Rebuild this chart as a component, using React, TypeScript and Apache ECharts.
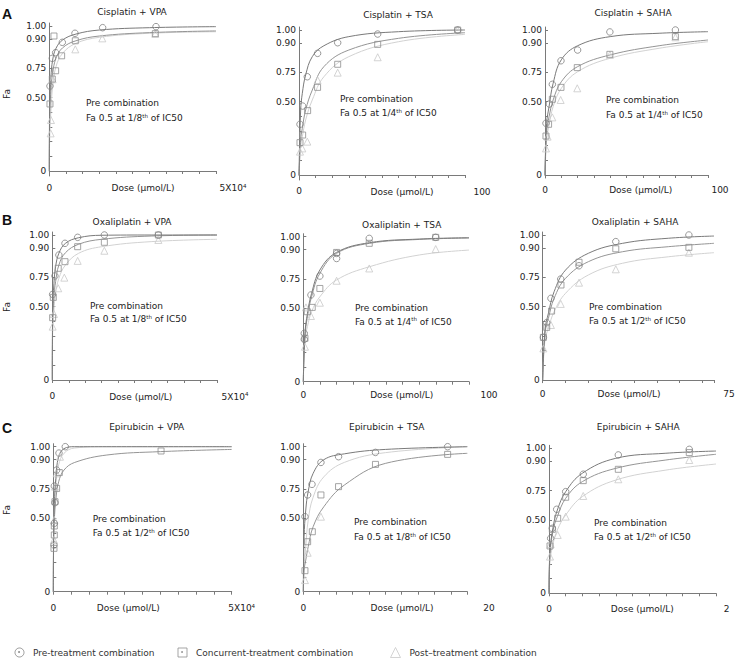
import React, { useEffect, useRef } from "react";
import * as echarts from "echarts";

const FONT = "DejaVu Sans";

// ---- y axis (fraction affected) ----
const faTicks = [0, 0.5, 0.75, 0.9, 1.0];
const faTickPos = [0, 73.5, 102.7, 132, 145];
const faTickLabels = ["0", "0.50", "0.75", "0.90", "1.00"];
const faMinorTicks = [0.1, 0.2, 0.3, 0.4];

// ---- legend ----
const seriesNames = ["Pre-treatment combination", "Concurrent-treatment combination", "Post\u2013treatment combination"];

// ---- A: Cisplatin ----
const A1_pre = [[200, 0.598], [900, 0.801], [1900, 0.83], [3900, 0.883], [7700, 0.944], [16000, 0.987], [32000, 0.995]];
const A1_con = [[200, 0.456], [900, 0.658], [1400, 0.923], [1900, 0.729], [3700, 0.814], [7800, 0.891], [31800, 0.941]];
const A1_post = [[400, 0.256], [500, 0.347], [1000, 0.656], [7800, 0.847], [15900, 0.905], [31800, 0.94]];
const A1_preFit = [[0, 0], [100, 0.44], [500, 0.678], [1000, 0.792], [2000, 0.852], [4000, 0.895], [8000, 0.938], [15000, 0.969], [30000, 0.987], [50000, 0.995]];
const A1_conFit = [[0, 0], [100, 0.347], [500, 0.564], [1000, 0.707], [2000, 0.801], [4000, 0.855], [8000, 0.891], [15000, 0.923], [30000, 0.949], [50000, 0.962]];
const A1_postFit = [[0, 0], [100, 0.21], [500, 0.415], [1000, 0.592], [2000, 0.758], [4000, 0.827], [8000, 0.878], [15000, 0.913], [30000, 0.944], [50000, 0.956]];

const A2_pre = [[0.6, 0.345], [2.2, 0.469], [5, 0.712], [11.2, 0.847], [23.3, 0.902], [47.4, 0.969], [95.6, 1.0]];
const A2_con = [[0.6, 0.22], [2.2, 0.272], [5.2, 0.438], [11.2, 0.621], [23.3, 0.791], [47.4, 0.893], [95.6, 1.0]];
const A2_post = [[0.6, 0.159], [2, 0.181], [5, 0.227], [11.2, 0.684], [23.3, 0.747], [47.4, 0.827], [95.6, 1.0]];
const A2_preFit = [[0, 0], [1, 0.442], [2, 0.57], [4, 0.727], [8, 0.83], [15, 0.886], [30, 0.949], [60, 0.987], [100, 1.0]];
const A2_conFit = [[0, 0], [1, 0.238], [2, 0.318], [4, 0.442], [8, 0.598], [15, 0.779], [30, 0.864], [60, 0.936], [100, 0.979]];
const A2_postFit = [[0, 0], [1, 0.193], [2, 0.261], [4, 0.374], [8, 0.513], [15, 0.712], [30, 0.83], [60, 0.91], [100, 0.966]];

const A3_pre = [[0.6, 0.352], [2.7, 0.483], [4.5, 0.647], [9.8, 0.809], [20, 0.864], [39.8, 0.985], [80, 1.0]];
const A3_con = [[0.6, 0.265], [2.2, 0.345], [4.5, 0.519], [9.8, 0.621], [19.8, 0.774], [39.8, 0.842], [80, 0.949]];
const A3_post = [[0.6, 0.181], [1.6, 0.261], [4.5, 0.392], [9.6, 0.513], [19.8, 0.613], [39.8, 0.839], [80, 0.944]];
const A3_preFit = [[0, 0], [1, 0.352], [2.5, 0.465], [5, 0.656], [10, 0.814], [20, 0.886], [40, 0.949], [70, 0.975], [100, 0.987]];
const A3_conFit = [[0, 0], [1, 0.295], [2.5, 0.397], [5, 0.513], [10, 0.669], [20, 0.779], [40, 0.839], [70, 0.886], [100, 0.923]];
const A3_postFit = [[0, 0], [1, 0.238], [2.5, 0.34], [5, 0.465], [10, 0.613], [20, 0.753], [40, 0.822], [70, 0.873], [100, 0.91]];

// ---- B: Oxaliplatin ----
const B1_pre = [[100, 0.604], [800, 0.757], [2000, 0.864], [3850, 0.936], [7700, 0.982], [15800, 1.0], [32200, 1.0]];
const B1_con = [[100, 0.424], [300, 0.578], [1800, 0.796], [3850, 0.83], [7700, 0.91], [15800, 0.944], [32200, 1.0]];
const B1_post = [[100, 0.363], [500, 0.449], [1800, 0.656], [3650, 0.747], [7700, 0.834], [15800, 0.886], [32200, 0.962]];
const B1_preFit = [[0, 0], [100, 0.476], [500, 0.699], [1000, 0.804], [2000, 0.873], [4000, 0.936], [8000, 0.979], [15000, 0.998], [30000, 1.0], [50000, 1.0]];
const B1_conFit = [[0, 0], [100, 0.386], [500, 0.584], [1000, 0.712], [2000, 0.813], [4000, 0.876], [8000, 0.929], [15000, 0.967], [30000, 0.992], [50000, 1.0]];
const B1_postFit = [[0, 0], [100, 0.318], [500, 0.476], [1000, 0.613], [2000, 0.741], [4000, 0.813], [8000, 0.873], [15000, 0.91], [30000, 0.949], [50000, 0.967]];

const B2_pre = [[0.6, 0.329], [0.6, 0.288], [4.6, 0.613], [10, 0.765], [20.1, 0.881], [20.1, 0.855], [39.8, 0.987], [79.9, 0.995]];
const B2_con = [[1, 0.295], [2.4, 0.476], [5.4, 0.507], [10, 0.669], [20.1, 0.886], [39.8, 0.949], [79.9, 0.995]];
const B2_post = [[1, 0.238], [1.6, 0.507], [4.6, 0.447], [10, 0.547], [20.1, 0.735], [39.8, 0.804], [79.9, 0.905]];
const B2_preFit = [[0, 0], [1, 0.329], [2.5, 0.465], [5, 0.627], [10, 0.796], [20, 0.886], [40, 0.954], [70, 0.982], [100, 0.992]];
const B2_conFit = [[0, 0], [1, 0.306], [2.5, 0.442], [5, 0.598], [10, 0.779], [20, 0.881], [40, 0.949], [70, 0.979], [100, 0.99]];
const B2_postFit = [[0, 0], [1, 0.284], [2.5, 0.374], [5, 0.476], [10, 0.598], [20, 0.741], [40, 0.813], [70, 0.873], [100, 0.898]];

const B3_pre = [[0.3, 0.29], [1.75, 0.39], [3.6, 0.57], [7.9, 0.735], [15.9, 0.809], [32, 0.949], [64, 1.0]];
const B3_con = [[0.3, 0.29], [1.75, 0.358], [3.9, 0.469], [8, 0.684], [15.9, 0.827], [32, 0.896], [64, 0.905]];
const B3_post = [[0.3, 0.215], [3.6, 0.374], [7.9, 0.522], [15.9, 0.704], [32, 0.791], [64, 0.876]];
const B3_preFit = [[0, 0], [1, 0.34], [2.5, 0.454], [5, 0.627], [10, 0.787], [20, 0.873], [35, 0.936], [55, 0.975], [75, 0.992]];
const B3_conFit = [[0, 0], [1, 0.318], [2.5, 0.42], [5, 0.57], [10, 0.741], [20, 0.83], [35, 0.881], [55, 0.91], [75, 0.936]];
const B3_postFit = [[0, 0], [1, 0.272], [2.5, 0.352], [5, 0.465], [10, 0.613], [20, 0.762], [35, 0.822], [55, 0.855], [75, 0.876]];

// ---- C: Epirubicin ----
const C1_pre = [[190, 0.318], [280, 0.465], [470, 0.633], [280, 0.765], [935, 0.847], [1590, 0.951], [3360, 1.0]];
const C1_con = [[190, 0.295], [280, 0.386], [280, 0.447], [470, 0.641], [935, 0.753], [1680, 0.834], [30200, 0.967]];
const C1_post = [[190, 0.352], [280, 0.488], [470, 0.762], [935, 0.83], [1870, 0.923]];
const C1_preFit = [[0, 0], [100, 0.42], [300, 0.627], [700, 0.804], [1500, 0.923], [3000, 0.985], [6000, 1.0], [15000, 1.0], [50000, 1.0]];
const C1_conFit = [[0, 0], [100, 0.329], [300, 0.488], [700, 0.656], [1500, 0.787], [3000, 0.847], [6000, 0.886], [15000, 0.936], [30000, 0.962], [50000, 0.979]];
const C1_postFit = [[0, 0], [100, 0.374], [300, 0.57], [700, 0.77], [1500, 0.873], [3000, 0.949], [6000, 0.99], [15000, 1.0], [50000, 1.0]];

const C2_pre = [[0.2, 0.513], [0.53, 0.699], [1.06, 0.774], [2.15, 0.886], [4.3, 0.923], [8.8, 0.956], [17.6, 1.0]];
const C2_con = [[0.2, 0.143], [0.53, 0.34], [1.1, 0.408], [2.15, 0.699], [4.3, 0.762], [8.8, 0.876], [17.6, 0.941]];
const C2_post = [[0.2, 0.079], [0.53, 0.265], [2.15, 0.513]];
const C2_preFit = [[0, 0], [0.1, 0.374], [0.3, 0.57], [0.6, 0.73], [1.2, 0.83], [2.5, 0.9], [5, 0.945], [10, 0.979], [20, 1.0]];
const C2_conFit = [[0, 0], [0.1, 0.147], [0.3, 0.215], [0.6, 0.306], [1.2, 0.442], [2.5, 0.598], [5, 0.77], [10, 0.881], [20, 0.949]];
const C2_postFit = [[0, 0], [0.1, 0.17], [0.3, 0.306], [0.6, 0.488], [1.2, 0.68], [2.5, 0.812], [5, 0.886], [10, 0.954], [20, 1.0]];

const C3_pre = [[0.02, 0.374], [0.04, 0.442], [0.092, 0.59], [0.2, 0.741], [0.41, 0.834], [0.83, 0.949], [1.68, 0.992]];
const C3_con = [[0.012, 0.322], [0.04, 0.435], [0.104, 0.513], [0.2, 0.693], [0.41, 0.801], [0.83, 0.859], [1.68, 0.967]];
const C3_post = [[0.012, 0.25], [0.02, 0.335], [0.104, 0.397], [0.2, 0.527], [0.41, 0.704], [0.83, 0.808], [1.68, 0.91]];
const C3_preFit = [[0, 0], [0.01, 0.272], [0.05, 0.454], [0.1, 0.584], [0.2, 0.741], [0.4, 0.839], [0.8, 0.923], [1.4, 0.962], [2, 0.979]];
const C3_conFit = [[0, 0], [0.01, 0.25], [0.05, 0.431], [0.1, 0.527], [0.2, 0.684], [0.4, 0.796], [0.8, 0.864], [1.4, 0.91], [2, 0.954]];
const C3_postFit = [[0, 0], [0.01, 0.204], [0.05, 0.34], [0.1, 0.431], [0.2, 0.541], [0.4, 0.699], [0.8, 0.804], [1.4, 0.855], [2, 0.886]];

// ---- panel descriptions ----
const panelTitles = [
  "Cisplatin + VPA", "Cisplatin + TSA", "Cisplatin + SAHA",
  "Oxaliplatin + VPA", "Oxaliplatin + TSA", "Oxaliplatin + SAHA",
  "Epirubicin + VPA", "Epirubicin + TSA", "Epirubicin + SAHA",
];
const doseMax = [50000, 100, 100, 50000, 100, 75, 50000, 20, 2];
const doseInterval = [5000, 10, 10, 5000, 10, 10, 5000, 2, 0.2];
const doseEndLabel = ["5X10{s|4}", "100", "100", "5X10{s|4}", "100", "75", "5X10{s|4}", "20", "2"];
const fractions = ["1/8", "1/4", "1/4", "1/8", "1/4", "1/2", "1/2", "1/8", "1/2"];
const preSets = [A1_pre, A2_pre, A3_pre, B1_pre, B2_pre, B3_pre, C1_pre, C2_pre, C3_pre];
const conSets = [A1_con, A2_con, A3_con, B1_con, B2_con, B3_con, C1_con, C2_con, C3_con];
const postSets = [A1_post, A2_post, A3_post, B1_post, B2_post, B3_post, C1_post, C2_post, C3_post];
const preFits = [A1_preFit, A2_preFit, A3_preFit, B1_preFit, B2_preFit, B3_preFit, C1_preFit, C2_preFit, C3_preFit];
const conFits = [A1_conFit, A2_conFit, A3_conFit, B1_conFit, B2_conFit, B3_conFit, C1_conFit, C2_conFit, C3_conFit];
const postFits = [A1_postFit, A2_postFit, A3_postFit, B1_postFit, B2_postFit, B3_postFit, C1_postFit, C2_postFit, C3_postFit];

// layout: x0, xEnd, yZero, gap, titleX, titleY, noteX, noteY1, noteY2, doseX, endX, rowY
const layouts = [
  [49.3, 216, 171, 5, 132, 12.3, 86, 103, 118, 143, 233, 188],
  [299, 465, 175, 5, 398, 15, 340, 99.3, 113.3, 402, 482, 191.7],
  [545, 708, 175, 3, 633, 13, 606, 100, 115, 640.7, 720, 190],
  [52.3, 217, 380, 2, 132, 221.7, 90, 306, 319.3, 140.7, 235, 396.7],
  [303.3, 469, 381.7, 1, 401.7, 225, 355, 308.3, 321.7, 401.7, 489, 395],
  [542.7, 714, 380, 2.7, 635, 221.7, 589, 307.3, 321, 629, 729, 394],
  [53.3, 231.7, 591.7, 1, 146.7, 427, 92.7, 519.3, 533.3, 128.3, 241.7, 608],
  [303.3, 467.3, 591.7, 1, 386.7, 427.3, 354, 521.7, 537.3, 402, 489, 608.3],
  [549, 716, 593.3, 1, 638.3, 427.3, 594, 522.7, 537.3, 642.3, 726.7, 609.3],
];
const Y_TOP = 148;

const COL_PRE = "#7f7f7f";
const COL_CON = "#8e8e8e";
const COL_POST = "#c9c9c9";
const LINE_PRE = "#7a7a7a";
const LINE_CON = "#959595";
const LINE_POST = "#d2d2d2";
const AXIS_COL = "#7a7a7a";
const TEXT_COL = "#222";

function faToPos(fa: number): number {
  if (fa <= faTicks[0]) return faTickPos[0];
  for (let i = 1; i < faTicks.length; i++) {
    if (fa <= faTicks[i]) {
      const t = (fa - faTicks[i - 1]) / (faTicks[i] - faTicks[i - 1]);
      return faTickPos[i - 1] + t * (faTickPos[i] - faTickPos[i - 1]);
    }
  }
  return faTickPos[faTickPos.length - 1];
}

function conv(arr: number[][]) {
  return arr.map(([d, f]) => [d, faToPos(f)]);
}

function buildOption() {
  const grid: any[] = [];
  const xAxis: any[] = [];
  const yAxis: any[] = [];
  const series: any[] = [];
  const graphic: any[] = [];
  const labelPos = faTicks.map(faToPos);
  const tickPos = faMinorTicks.map(faToPos).concat(labelPos);

  layouts.forEach((L, i) => {
    const [x0, xEnd, yZero, gap, titleX, titleY, noteX, noteY1, noteY2, doseX, endX, rowY] = L;
    grid.push({ left: x0, top: yZero - Y_TOP, width: xEnd - x0, height: Y_TOP + gap, containLabel: false });
    const axisY = yZero + gap;
    xAxis.push({
      type: "value", gridIndex: i, min: 0, max: doseMax[i], interval: doseInterval[i],
      axisLine: { show: true, lineStyle: { color: AXIS_COL, width: 1 } },
      axisTick: { show: true, inside: false, length: 3, lineStyle: { color: AXIS_COL } },
      splitLine: { show: false },
      axisLabel: {
        show: true, customValues: [0], formatter: () => "0", margin: Math.max(2, rowY - axisY - 5),
        color: TEXT_COL, fontFamily: FONT, fontSize: 9,
      },
    });
    yAxis.push({
      type: "value", gridIndex: i, min: -gap, max: Y_TOP,
      axisLine: { show: true, lineStyle: { color: AXIS_COL, width: 1 } },
      axisTick: { show: true, inside: true, length: 3, customValues: tickPos, lineStyle: { color: AXIS_COL } },
      splitLine: { show: false },
      axisLabel: {
        show: true, customValues: labelPos, margin: 3, color: TEXT_COL, fontFamily: FONT, fontSize: 9,
        formatter: (v: number) => {
          let best = 0;
          labelPos.forEach((p, k) => { if (Math.abs(p - v) < Math.abs(labelPos[best] - v)) best = k; });
          return faTickLabels[best];
        },
      },
    });

    const fits = [
      { d: preFits[i], c: LINE_PRE },
      { d: conFits[i], c: LINE_CON },
      { d: postFits[i], c: LINE_POST },
    ];
    [2, 1, 0].forEach((k) => {
      series.push({
        type: "line", name: "fit" + k, xAxisIndex: i, yAxisIndex: i, data: conv(fits[k].d),
        showSymbol: false, symbol: "none", smooth: 0.4,
        lineStyle: { color: fits[k].c, width: 1 }, itemStyle: { color: fits[k].c }, z: 2, silent: true,
      });
    });
    const pts = [
      { d: postSets[i], sym: "triangle", c: COL_POST, s: 7, n: seriesNames[2] },
      { d: conSets[i], sym: "rect", c: COL_CON, s: 6, n: seriesNames[1] },
      { d: preSets[i], sym: "circle", c: COL_PRE, s: 6.5, n: seriesNames[0] },
    ];
    pts.forEach((p) => {
      series.push({
        type: "scatter", name: p.n, xAxisIndex: i, yAxisIndex: i, data: conv(p.d),
        symbol: p.sym, symbolSize: p.s,
        itemStyle: { color: "rgba(255,255,255,0)", borderColor: p.c, borderWidth: 1 }, z: 3,
      });
    });

    const txt = { fill: TEXT_COL, fontFamily: FONT, fontSize: 9 };
    graphic.push({ type: "text", x: titleX, y: titleY, style: { ...txt, text: panelTitles[i], align: "center", verticalAlign: "middle" } });
    graphic.push({ type: "text", x: noteX, y: noteY1, style: { ...txt, text: "Pre combination", align: "left", verticalAlign: "middle" } });
    graphic.push({
      type: "text", x: noteX, y: noteY2,
      style: {
        ...txt, text: "Fa 0.5 at " + fractions[i] + "{s|th} of IC50", align: "left", verticalAlign: "middle",
        rich: { s: { fontSize: 5.5, fontFamily: FONT, fill: TEXT_COL, verticalAlign: "top", lineHeight: 11 } },
      },
    });
    graphic.push({ type: "text", x: doseX, y: rowY, style: { ...txt, text: "Dose (\u03bcmol/L)", align: "center", verticalAlign: "middle" } });
    graphic.push({
      type: "text", x: endX, y: rowY,
      style: {
        ...txt, text: doseEndLabel[i], align: "center", verticalAlign: "middle",
        rich: { s: { fontSize: 5.5, fontFamily: FONT, fill: TEXT_COL, verticalAlign: "top", lineHeight: 11 } },
      },
    });
  });

  const letters = [["A", 14], ["B", 220], ["C", 428]];
  letters.forEach(([l, y]) => {
    graphic.push({ type: "text", x: 2, y, style: { text: l, fill: "#111", fontFamily: "Liberation Sans", fontWeight: "bold", fontSize: 14, align: "left", verticalAlign: "middle" } });
  });
  [94, 307, 510].forEach((y) => {
    graphic.push({ type: "text", x: 6.5, y, rotation: Math.PI / 2, style: { text: "Fa", fill: TEXT_COL, fontFamily: FONT, fontSize: 9, align: "center", verticalAlign: "middle" } });
  });

  // legend icon centres at 19, 182, 395
  const legendSizes = [9, 9, 10];
  const legendCentres = [19, 182, 395];
  const legendIcons = ["circle", "rect", "triangle"];
  const legendCols = [COL_PRE, COL_CON, COL_POST];
  const legend = seriesNames.map((n, k) => ({
    left: legendCentres[k] - legendSizes[k] / 2, top: 652 - legendSizes[k] / 2, padding: 0,
    orient: "horizontal", itemWidth: legendSizes[k], itemHeight: legendSizes[k], itemGap: 10,
    selectedMode: false,
    textStyle: { color: "#333", fontFamily: FONT, fontSize: 9, padding: [0, 0, 0, 4] },
    data: [{ name: n, icon: legendIcons[k], itemStyle: { color: "rgba(255,255,255,0)", borderColor: legendCols[k], borderWidth: 1 } }],
  }));
  // small dots inside circle and square legend icons
  graphic.push({ type: "circle", shape: { cx: 19, cy: 652, r: 0.9 }, style: { fill: COL_PRE }, z: 100 });
  graphic.push({ type: "circle", shape: { cx: 182, cy: 652, r: 0.9 }, style: { fill: COL_CON }, z: 100 });

  return {
    animation: false,
    backgroundColor: "#fff",
    textStyle: { fontFamily: FONT },
    grid, xAxis, yAxis, series, graphic, legend,
  };
}

export default function App() {
  const ref = useRef<HTMLDivElement>(null);
  useEffect(() => {
    if (!ref.current) return;
    const chart = echarts.init(ref.current, null, { renderer: "svg" });
    chart.setOption(buildOption() as any);
    return () => chart.dispose();
  }, []);
  return <div ref={ref} style={{ position: "fixed", left: 0, top: 0, width: 742, height: 665 }} />;
}
